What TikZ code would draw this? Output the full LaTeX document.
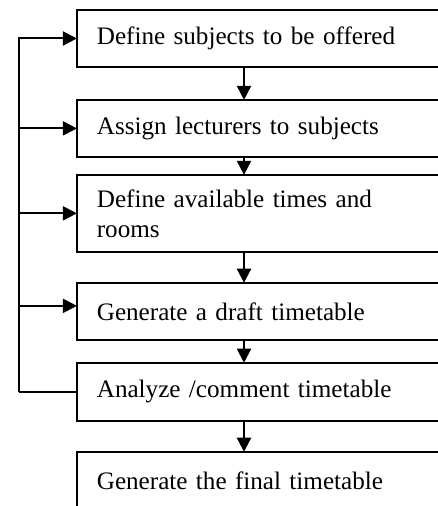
\documentclass[tikz,border=0pt]{standalone}
\usepackage{fontspec}
\setmainfont{Liberation Serif}
\usetikzlibrary{arrows.meta, positioning}

\begin{document}
\begin{tikzpicture}[
  stage/.style={draw, line width=0.9pt, text width=153.6pt, inner xsep=9.2pt, inner ysep=0pt, outer sep=0pt,
    minimum height=26.3pt, align=left, font=\fontsize{11.6}{13.8}\selectfont},
  flow/.style={line width=0.9pt, -{Triangle[length=6.5pt, width=6.5pt]}},
  wire/.style={line width=0.9pt}
]
\useasboundingbox (0,0) rectangle (202.1pt,-233.5pt);
\clip (0,0) rectangle (202.1pt,-233.5pt);

\node[stage, anchor=north west] (define) at (35.5pt,-4.6pt) {Define subjects to be offered};
\node[stage, below=15.2pt of define] (assign) {Assign lecturers to subjects};
\node[stage, below=8.3pt of assign, minimum height=35.5pt] (times) {Define available times and\\rooms};
\node[stage, below=14.3pt of times] (draft) {Generate a draft timetable};
\node[stage, below=10.6pt of draft, minimum height=26.8pt] (analyze) {Analyze /comment timetable};
\node[stage, below=14.3pt of analyze] (final) {Generate the final timetable};

% main flow down the boxes
\coordinate (spine) at (112.6pt,0);
\draw[flow] (define.south -| spine) -- (assign.north -| spine);
\draw[flow] (assign.south -| spine) -- (times.north -| spine);
\draw[flow] (times.south -| spine) -- (draft.north -| spine);
\draw[flow] (draft.south -| spine) -- (analyze.north -| spine);
\draw[flow] (analyze.south -| spine) -- (final.north -| spine);

% feedback loop on the left
\coordinate[left=26.8pt of analyze.west] (rail);
\draw[wire] (analyze.west) -- (rail);
\draw[flow] (rail) |- (define.west);
\draw[flow] (rail |- assign.west) -- (assign.west);
\draw[flow] (rail |- times.west) -- (times.west);
\draw[flow] ([yshift=2.5pt]rail |- draft.west) -- ([yshift=2.5pt]draft.west);
\end{tikzpicture}
\end{document}
